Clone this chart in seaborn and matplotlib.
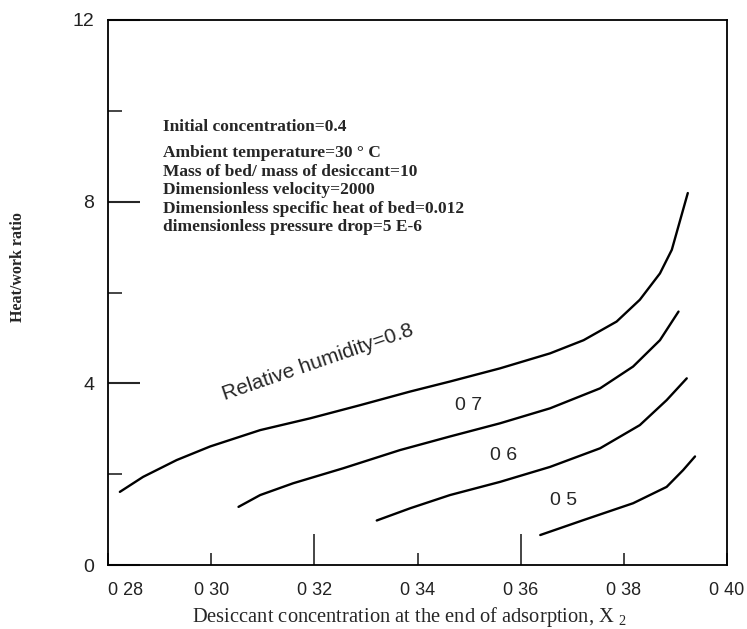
import matplotlib
matplotlib.use("Agg")
import matplotlib.pyplot as plt
import seaborn as sns
import pandas as pd

# ---- data ----
x_rh08 = [0.2823, 0.2868, 0.2933, 0.2998, 0.3095, 0.3192, 0.3289, 0.3386, 0.3463,
          0.3560, 0.3657, 0.3722, 0.3786, 0.3831, 0.3870, 0.3893, 0.3924]
y_rh08 = [1.61, 1.94, 2.31, 2.61, 2.97, 3.23, 3.52, 3.82, 4.04,
          4.33, 4.66, 4.95, 5.36, 5.84, 6.42, 6.94, 8.19]
x_rh07 = [0.3053, 0.3095, 0.3159, 0.3256, 0.3366, 0.3463, 0.3560, 0.3657, 0.3754,
          0.3818, 0.3870, 0.3906]
y_rh07 = [1.28, 1.54, 1.80, 2.13, 2.53, 2.83, 3.12, 3.45, 3.89,
          4.37, 4.95, 5.58]
x_rh06 = [0.3321, 0.3386, 0.3463, 0.3560, 0.3657, 0.3754, 0.3831, 0.3883, 0.3922]
y_rh06 = [0.98, 1.25, 1.54, 1.83, 2.16, 2.57, 3.08, 3.63, 4.11]
x_rh05 = [0.3638, 0.3722, 0.3818, 0.3883, 0.3915, 0.3938]
y_rh05 = [0.66, 0.99, 1.36, 1.72, 2.09, 2.39]

humidities = ["0.8", "0.7", "0.6", "0.5"]
curve_labels = ["Relative humidity=0.8", "0 7", "0 6", "0 5"]
xtick_vals = [0.28, 0.30, 0.32, 0.34, 0.36, 0.38, 0.40]
xtick_labels = ["0 28", "0 30", "0 32", "0 34", "0 36", "0 38", "0 40"]
ytick_vals = [0, 4, 8, 12]
ytick_labels = ["0", "4", "8", "12"]
ytick_minor = [2, 6, 10]
notes = [
    "Initial concentration=0.4",
    "Ambient temperature=30 \u00b0 C",
    "Mass of bed/ mass of desiccant=10",
    "Dimensionless velocity=2000",
    "Dimensionless specific heat of bed=0.012",
    "dimensionless pressure drop=5 E-6",
]

frames = []
for rh, xs, ys in zip(humidities, [x_rh08, x_rh07, x_rh06, x_rh05],
                      [y_rh08, y_rh07, y_rh06, y_rh05]):
    frames.append(pd.DataFrame({"x": xs, "y": ys, "rh": rh}))
df = pd.concat(frames, ignore_index=True)

sns.set_style("ticks")
plt.rcParams["font.family"] = ["Liberation Sans", "DejaVu Sans"]

fig = plt.figure(figsize=(7.47, 6.29), dpi=100)
ax = fig.add_axes([108 / 747, 1 - 565 / 629, (727 - 108) / 747, (565 - 20) / 629])

sns.lineplot(data=df, x="x", y="y", hue="rh", units="rh", estimator=None,
             palette={h: "black" for h in humidities}, sort=False,
             linewidth=1.7, legend=False, ax=ax)

ax.set_xlim(0.28, 0.40)
ax.set_ylim(0, 12)

for s in ax.spines.values():
    s.set_visible(True)
    s.set_linewidth(1.3)
    s.set_color("black")

ax.set_xticks(xtick_vals)
ax.set_xticklabels(xtick_labels, fontsize=13, color="#222222")
ax.set_yticks(ytick_vals)
ax.set_yticklabels(ytick_labels, fontsize=14, color="#222222")
ax.set_yticks(ytick_minor, minor=True)
ax.tick_params(axis="x", which="major", direction="in", length=9, width=1.2, pad=12)
ax.tick_params(axis="y", which="major", direction="in", length=23, width=1.5, pad=10)
ax.tick_params(axis="y", which="minor", direction="in", length=10, width=1.2)
# longer x ticks at 0.32 and 0.36
for t, v in zip(ax.xaxis.get_major_ticks(), xtick_vals):
    if abs(v - 0.32) < 1e-9 or abs(v - 0.36) < 1e-9:
        t.tick1line.set_markersize(22)
ax.get_xticklabels()[0].set_horizontalalignment("left")

ax.set_xlabel(r"Desiccant concentration at the end of adsorption, X $\mathregular{_2}$",
              family=["Liberation Serif"], fontsize=14.8)
ax.xaxis.set_label_coords((409 - 108) / 619, -(605 - 565) / 545)
ax.set_ylabel("Heat/work ratio", family=["Liberation Serif"], fontsize=11.5,
              fontweight="bold")
ax.yaxis.set_label_coords(-(108 - 26) / 619, (565 - 267) / 545)

# curve labels
ax.text(0.3207, 4.47, curve_labels[0], rotation=19, rotation_mode="anchor",
        ha="center", va="center", fontsize=15)
ax.text(0.3499, 3.52, curve_labels[1], ha="center", va="center", fontsize=14)
ax.text(0.3566, 2.42, curve_labels[2], ha="center", va="center", fontsize=14)
ax.text(0.3683, 1.43, curve_labels[3], ha="center", va="center", fontsize=14)

# parameter notes
note_y = [127, 153, 172, 190, 209, 227]
for txt, py in zip(notes, note_y):
    ax.text((163 - 108) / 619, (565 - py) / 545, txt, transform=ax.transAxes,
            ha="left", va="center", family=["Liberation Serif"],
            fontsize=12.5, fontweight="bold")

fig.savefig("out.png", dpi=100)
